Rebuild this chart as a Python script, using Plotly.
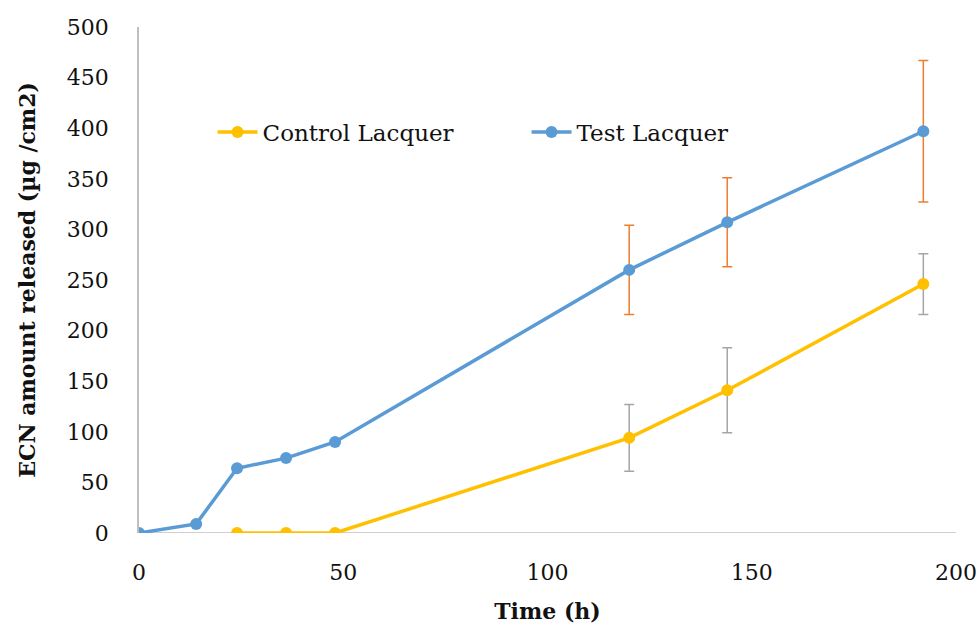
import plotly.graph_objects as go

time_test = [0, 14, 24, 36, 48, 120, 144, 192]
test_vals = [0, 9, 64, 74, 90, 260, 307, 397]
test_err = [0, 0, 0, 0, 0, 44, 44, 70]

time_ctrl = [24, 36, 48, 120, 144, 192]
ctrl_vals = [0, 0, 0, 94, 141, 246]
ctrl_err = [0, 0, 0, 33, 42, 30]

x_ticks = [0, 50, 100, 150, 200]
y_ticks = [0, 50, 100, 150, 200, 250, 300, 350, 400, 450, 500]

FONT = "DejaVu Serif"

fig = go.Figure()
fig.add_trace(go.Scatter(
    x=time_ctrl, y=ctrl_vals, name="Control Lacquer", mode="lines+markers",
    line=dict(color="#FFC000", width=3.5),
    marker=dict(color="#FFC000", size=12),
    error_y=dict(type="data", array=ctrl_err, color="#A5A5A5", thickness=1.5, width=5),
))
fig.add_trace(go.Scatter(
    x=time_test, y=test_vals, name="Test Lacquer", mode="lines+markers",
    line=dict(color="#5B9BD5", width=3.5),
    marker=dict(color="#5B9BD5", size=12),
    error_y=dict(type="data", array=test_err, color="#ED7D31", thickness=1.5, width=5),
))

fig.update_layout(
    width=976, height=626,
    margin=dict(l=139, r=20, t=27, b=93),
    paper_bgcolor="white", plot_bgcolor="white",
    font=dict(family=FONT, size=22, color="#111111"),
    showlegend=True,
    legend=dict(orientation="h", x=0.09, y=0.7925, xanchor="left", yanchor="middle",
                font=dict(family=FONT, size=23, color="#111111"),
                bgcolor="rgba(0,0,0,0)", entrywidth=259, itemwidth=40),
    xaxis=dict(range=[0, 200], tickvals=x_ticks, showgrid=False, zeroline=False,
               showline=False, ticks="", ticklabelstandoff=24, automargin=False,
               ticklabeloverflow="allow",
               tickfont=dict(family=FONT, size=22),
               title=dict(text="<b>Time (h)</b>", font=dict(family=FONT, size=22), standoff=19)),
    yaxis=dict(range=[0, 500], tickvals=y_ticks, showgrid=False, zeroline=False,
               showline=True, linecolor="#BFBFBF", linewidth=1.5, ticks="",
               ticklabelstandoff=24, automargin=False, tickfont=dict(family=FONT, size=22),
               title=dict(text="<b>ECN amount released (µg /cm2)</b>",
                          font=dict(family=FONT, size=22), standoff=25)),
)

fig.add_shape(type="line", xref="x", yref="y", x0=0, x1=200, y0=0, y1=0,
              line=dict(color="#BFBFBF", width=1.5), layer="below")

fig.write_html("out.html", config={"displayModeBar": False},
               post_script="document.body.style.margin='0';")
